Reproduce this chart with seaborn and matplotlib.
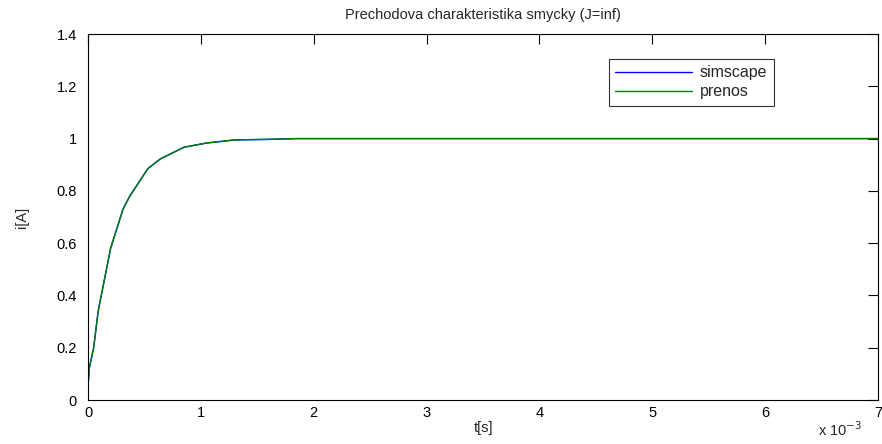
import pandas as pd
import matplotlib
matplotlib.use("Agg")
import matplotlib.pyplot as plt
import seaborn as sns

# step response, time in seconds
t_sim = [0, 0.00001, 0.00005, 0.00009, 0.0002, 0.00031, 0.00037, 0.00053, 0.00064,
         0.00085, 0.00105, 0.0013, 0.0016, 0.00185, 0.007]
i_sim = [0.05, 0.12, 0.2, 0.34, 0.58, 0.73, 0.78, 0.885, 0.922,
         0.967, 0.983, 0.995, 0.997, 1.0, 1.0]
t_prenos = t_sim
i_prenos = i_sim

series = ["simscape", "prenos"]
colors = ["#0000ff", "#008000"]

df = pd.concat([
    pd.DataFrame({"t": t_sim, "i": i_sim, "series": "simscape"}),
    pd.DataFrame({"t": t_prenos, "i": i_prenos, "series": "prenos"}),
])

sns.set_style("white")
plt.rcParams["font.family"] = ["Liberation Sans", "DejaVu Sans"]
plt.rcParams["font.size"] = 10

fig = plt.figure(figsize=(8.82, 4.44), dpi=100)
ax = fig.add_axes([0.0998, 0.099, 0.8957, 0.8244])

sns.lineplot(data=df, x="t", y="i", hue="series", hue_order=series,
             palette=colors, linewidth=1.0, ax=ax, estimator=None, sort=False)

ax.set_xlim(0, 0.007)
ax.set_ylim(0, 1.4)
ax.set_xticks([k * 0.001 for k in range(8)])
ax.set_xticklabels([str(k) for k in range(8)])
ax.set_yticks([0, 0.2, 0.4, 0.6, 0.8, 1.0, 1.2, 1.4])
ax.set_yticklabels(["0", "0.2", "0.4", "0.6", "0.8", "1", "1.2", "1.4"])
ax.tick_params(direction="in", length=7, width=0.8, top=True, right=True,
               labelsize=10.5, colors="black")
ax.tick_params(axis="y", pad=8)
ax.tick_params(axis="x", pad=4)
for s in ax.spines.values():
    s.set_visible(True)
    s.set_color("black")
    s.set_linewidth(0.8)

ax.set_title("Prechodova charakteristika smycky (J=inf)", fontsize=10.5, pad=11)
ax.set_xlabel("t[s]", fontsize=10.5, labelpad=1)
ax.set_ylabel("i[A]", fontsize=10.5, labelpad=20)
fig.text(0.928, 0.012, "x 10$^{-3}$", fontsize=10.5, ha="left", va="bottom")

leg = ax.legend(loc="upper left", bbox_to_anchor=(0.659, 0.932), frameon=True,
                fancybox=False, edgecolor="black", handlelength=4.8,
                handletextpad=0.5, borderpad=0.4, borderaxespad=0,
                labelspacing=0.25, fontsize=11.5, title=None)
leg.get_frame().set_linewidth(0.8)

fig.savefig("out.png", dpi=100)
